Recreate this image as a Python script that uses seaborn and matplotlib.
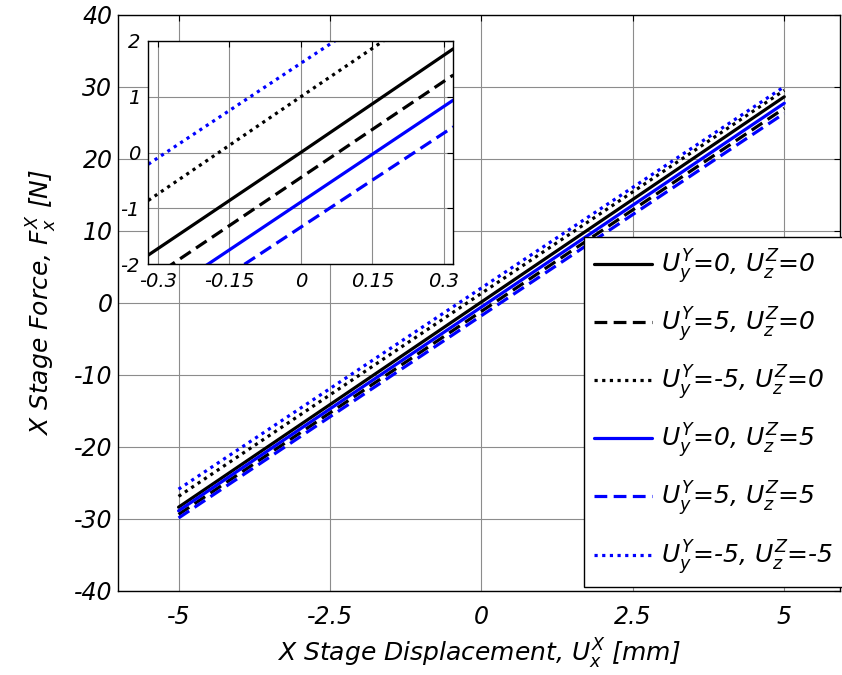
import matplotlib
matplotlib.use("Agg")
import matplotlib.pyplot as plt
import seaborn as sns
import pandas as pd

# ---- data ----
x_main = [-5, 5]
f_y0_z0 = [-28.4, 28.6]
f_y5_z0 = [-29.4, 27.0]
f_ym5_z0 = [-26.9, 29.5]
f_y0_z5 = [-28.9, 27.7]
f_y5_z5 = [-29.9, 26.3]
f_ym5_zm5 = [-25.9, 30.0]

x_inset = [-0.32, 0.0, 0.32]
i_y0_z0 = [-1.84, 0.0, 1.86]
i_y5_z0 = [-2.29, -0.45, 1.39]
i_ym5_z0 = [-0.86, 1.0, 2.85]
i_y0_z5 = [-2.72, -0.89, 0.94]
i_y5_z5 = [-3.14, -1.34, 0.46]
i_ym5_zm5 = [-0.21, 1.6, 3.4]

labels = [r"$U_y^Y$=0, $U_z^Z$=0", r"$U_y^Y$=5, $U_z^Z$=0", r"$U_y^Y$=-5, $U_z^Z$=0",
          r"$U_y^Y$=0, $U_z^Z$=5", r"$U_y^Y$=5, $U_z^Z$=5", r"$U_y^Y$=-5, $U_z^Z$=-5"]
main_series = [f_y0_z0, f_y5_z0, f_ym5_z0, f_y0_z5, f_y5_z5, f_ym5_zm5]
inset_series = [i_y0_z0, i_y5_z0, i_ym5_z0, i_y0_z5, i_y5_z5, i_ym5_zm5]

x_ticks = [-5, -2.5, 0, 2.5, 5]
x_ticklabels = ["-5", "-2.5", "0", "2.5", "5"]
y_ticks = [-40, -30, -20, -10, 0, 10, 20, 30, 40]
y_ticklabels = ["-40", "-30", "-20", "-10", "0", "10", "20", "30", "40"]
ix_ticks = [-0.3, -0.15, 0, 0.15, 0.3]
ix_ticklabels = ["-0.3", "-0.15", "0", "0.15", "0.3"]
iy_ticks = [-2, -1, 0, 1, 2]
iy_ticklabels = ["-2", "-1", "0", "1", "2"]

# ---- style ----
colors = ["black", "black", "black", "blue", "blue", "blue"]
styles = ["-", (0, (4, 2)), (0, (1, 1.4)), "-", (0, (4, 2)), (0, (1, 1.4))]

sns.set_theme(style="white")
plt.rcParams["font.family"] = ["DejaVu Sans"]
plt.rcParams["font.style"] = "italic"
plt.rcParams["mathtext.fontset"] = "dejavusans"
plt.rcParams["mathtext.default"] = "it"
for k in ["text.color", "axes.labelcolor", "xtick.color", "ytick.color"]:
    plt.rcParams[k] = "black"

fig = plt.figure(figsize=(8.42, 6.75), dpi=100)
ax = fig.add_axes([118 / 842, 1 - 590.7 / 675, (840 - 118) / 842, (590.7 - 14.7) / 675])

for ys, c, ls, lab in zip(main_series, colors, styles, labels):
    df = pd.DataFrame({"x": x_main, "y": ys})
    sns.lineplot(data=df, x="x", y="y", color=c, linestyle=ls, linewidth=2.3,
                 label=lab, ax=ax, legend=False)

ax.set_xlim(-6, 5.92)
ax.set_ylim(-40, 40)
ax.set_xticks(x_ticks)
ax.set_xticklabels(x_ticklabels)
ax.set_yticks(y_ticks)
ax.set_yticklabels(y_ticklabels)
ax.grid(True, color="0.55", linewidth=0.8)
ax.tick_params(direction="in", top=True, right=True, length=4, width=0.8,
               labelsize=17, color="black", pad=4)
ax.tick_params(axis="x", pad=10)
for s in ax.spines.values():
    s.set_color("black")
    s.set_linewidth(1.0)
ax.set_xlabel(r"X Stage Displacement, $U_x^X$ [mm]", fontsize=18, labelpad=6)
ax.set_ylabel(r"X Stage Force, $F_x^X$ [N]", fontsize=18, labelpad=11)

leg = ax.legend(handles=ax.get_lines(), labels=labels, loc="lower right",
                bbox_to_anchor=(843 / 842, 1 - 586.7 / 675), bbox_transform=fig.transFigure,
                prop={"size": 18, "style": "italic"}, frameon=True, fancybox=False,
                edgecolor="black", framealpha=1, handlelength=2.3, handletextpad=0.35,
                labelspacing=0.78, borderaxespad=0, borderpad=0.4)
leg.get_frame().set_linewidth(1.0)

# ---- inset ----
ins = fig.add_axes([148.3 / 842, 1 - 264 / 675, (453.3 - 148.3) / 842, (264 - 41) / 675])
ins.set_facecolor("white")
for ys, c, ls in zip(inset_series, colors, styles):
    df = pd.DataFrame({"x": x_inset, "y": ys})
    sns.lineplot(data=df, x="x", y="y", color=c, linestyle=ls, linewidth=2.3,
                 ax=ins, legend=False)
ins.set_xlim(-0.32, 0.32)
ins.set_ylim(-2, 2)
ins.set_xticks(ix_ticks)
ins.set_xticklabels(ix_ticklabels)
ins.set_yticks(iy_ticks)
ins.set_yticklabels(iy_ticklabels)
ins.grid(True, color="0.55", linewidth=0.8)
ins.tick_params(direction="in", top=True, right=True, length=4, width=0.8,
                labelsize=14, color="black", pad=6)
ins.set_xlabel("")
ins.set_ylabel("")
for s in ins.spines.values():
    s.set_color("black")
    s.set_linewidth(1.0)

fig.savefig("out.png", dpi=100)
